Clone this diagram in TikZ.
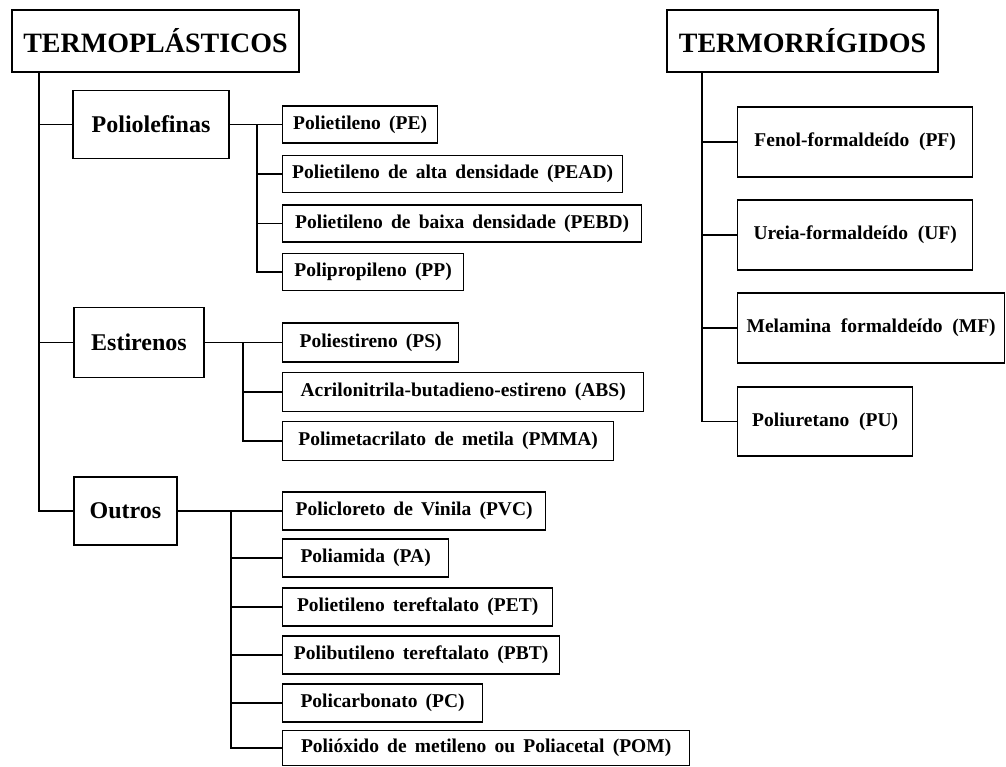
\documentclass[tikz,border=0pt]{standalone}
\usepackage{fontspec}
\setmainfont{Liberation Serif}
\newcommand{\wspA}{\spaceskip=0.42em plus 0.1em\relax}
\newcommand{\wspB}{\spaceskip=0.5em plus 0.1em\relax}
\begin{document}
\begin{tikzpicture}[x=1pt,y=-1pt,
  bx/.style={draw, line width=1.3pt, inner sep=0pt, font=\bfseries\fontsize{19.5}{21}\selectfont\wspA},
  title/.style={bx, font=\bfseries\fontsize{28}{30}\selectfont, minimum height=62pt},
  mid/.style={bx, font=\bfseries\fontsize{24}{26}\selectfont, minimum height=68pt},
  leaf/.style={bx, minimum height=37pt},
  rleaf/.style={bx, font=\bfseries\fontsize{19.5}{21}\selectfont\wspB, minimum height=70pt},
  conn/.style={line width=1.4pt}]
\useasboundingbox (0,0) rectangle (1006,767);
% titles
\node[title, minimum width=287pt] (tp) at (155.5,41) {TERMOPLÁSTICOS};
\node[title, minimum width=271pt] (tr) at (802.5,41) {TERMORRÍGIDOS};
% mid level
\node[mid, minimum width=156pt] (poli) at (151,124.5) {Poliolefinas};
\node[mid, minimum width=130pt, minimum height=70pt] (est) at (139,342.5) {Estirenos};
\node[mid, minimum width=103pt] (out) at (125.5,511) {Outros};
% poliolefinas leaves
\node[leaf, minimum width=155pt, anchor=west] (pe) at (282,124.5) {Polietileno (PE)};
\node[leaf, minimum width=340pt, anchor=west] (pead) at (282,174) {Polietileno de alta densidade (PEAD)};
\node[leaf, minimum width=359pt, anchor=west] (pebd) at (282,223.5) {Polietileno de baixa densidade (PEBD)};
\node[leaf, minimum width=181pt, anchor=west] (pp) at (282,272) {Polipropileno (PP)};
% estirenos leaves
\node[leaf, minimum width=176pt, minimum height=39pt, anchor=west] (ps) at (282,342.5) {Poliestireno (PS)};
\node[leaf, minimum width=361pt, minimum height=39pt, anchor=west] (abs) at (282,392) {Acrilonitrila-butadieno-estireno (ABS)};
\node[leaf, minimum width=331pt, minimum height=39pt, anchor=west] (pmma) at (282,441) {Polimetacrilato de metila (PMMA)};
% outros leaves
\node[leaf, minimum width=263pt, minimum height=38pt, anchor=west] (pvc) at (282,511) {Policloreto de Vinila (PVC)};
\node[leaf, minimum width=166pt, minimum height=38pt, anchor=west] (pa) at (282,558) {Poliamida (PA)};
\node[leaf, minimum width=270pt, minimum height=38pt, anchor=west] (pet) at (282,607) {Polietileno tereftalato (PET)};
\node[leaf, minimum width=277pt, minimum height=38pt, anchor=west] (pbt) at (282,655) {Polibutileno tereftalato (PBT)};
\node[leaf, minimum width=200pt, minimum height=38pt, anchor=west] (pc) at (282,703) {Policarbonato (PC)};
\node[leaf, minimum width=407pt, minimum height=35pt, anchor=west] (pom) at (282,748) {Polióxido de metileno ou Poliacetal (POM)};
% termorrigidos leaves
\node[rleaf, minimum width=235pt, anchor=west] (pf) at (737,142) {Fenol-formaldeído (PF)};
\node[rleaf, minimum width=235pt, anchor=west] (uf) at (737,235) {Ureia-formaldeído (UF)};
\node[rleaf, minimum width=267pt, anchor=west] (mf) at (737,328) {Melamina formaldeído (MF)};
\node[rleaf, minimum width=175pt, minimum height=69pt, anchor=west] (pu) at (737,421.5) {Poliuretano (PU)};
% coordinates
\coordinate (tpt) at (39,72);
\coordinate (trt) at (702,72);
\coordinate (pb) at (257,124.5);
\coordinate (eb) at (243,342.5);
\coordinate (ob) at (231,511);
% trunk left
\draw[conn] (tpt) |- (poli.west);
\draw[conn] (tpt) |- (est.west);
\draw[conn] (tpt) |- (out.west);
% poliolefinas branch
\draw[conn] (poli.east) -- (pe.west);
\draw[conn] (pb) |- (pead.west);
\draw[conn] (pb) |- (pebd.west);
\draw[conn] (pb) |- (pp.west);
% estirenos branch
\draw[conn] (est.east) -- (ps.west);
\draw[conn] (eb) |- (abs.west);
\draw[conn] (eb) |- (pmma.west);
% outros branch
\draw[conn] (out.east) -- (pvc.west);
\draw[conn] (ob) |- (pa.west);
\draw[conn] (ob) |- (pet.west);
\draw[conn] (ob) |- (pbt.west);
\draw[conn] (ob) |- (pc.west);
\draw[conn] (ob) |- (pom.west);
% right trunk
\draw[conn] (trt) |- (pf.west);
\draw[conn] (trt) |- (uf.west);
\draw[conn] (trt) |- (mf.west);
\draw[conn] (trt) |- (pu.west);
\end{tikzpicture}
\end{document}
